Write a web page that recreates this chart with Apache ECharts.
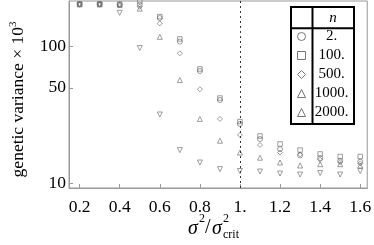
<!DOCTYPE html>
<html>
<head>
<meta charset="utf-8">
<script src="https://cdn.jsdelivr.net/npm/echarts@6/dist/echarts.min.js"></script>
<style>
html,body{margin:0;padding:0;background:#fff;}
#c{width:374px;height:245px;}
</style>
</head>
<body>
<div id="c"></div>
<script>
var xValues = [0.2, 0.3, 0.4, 0.5, 0.6, 0.7, 0.8, 0.9, 1.0, 1.1, 1.2, 1.3, 1.4, 1.5, 1.6];
var seriesNames = ['2.', '100.', '500.', '1000.', '2000.'];
var n2    = [205, 205, 203, 203, 162, 109, 66.4, 40.7, 27.2, 21.1, 17.8, 16.0, 15.3, 14.6, 14.4];
var n100  = [205, 205, 205, 214, 166, 114, 68.7, 42.1, 28.3, 22.2, 19.4, 17.5, 16.4, 15.7, 15.7];
var n500  = [205, 205, 204, 196, 148, 89.5, 48.8, 29.6, 22.6, 19.1, 16.8, 16.3, 14.9, 14.3, 14.0];
var n1000 = [204, 204, 202, 190, 118, 57, 29.6, 20.5, 16.8, 15.4, 14.2, 13.5, 13.8, 13.8, 13.5];
var n2000 = [203, 203, 177, 97.8, 31.9, 17.5, 14.2, 12.7, 12.3, 12.2, 11.8, 11.6, 11.9, 11.6, 12.3];
var xTicks = [0.2, 0.4, 0.6, 0.8, 1.0, 1.2, 1.4, 1.6];
var yTicks = [10, 50, 100];
var criticalX = 1.0;

var serif = "'Liberation Serif', 'DejaVu Serif', serif";
var markGray = '#666';

function pairs(ys) {
  return xValues.map(function (x, i) { return [x, ys[i]]; });
}

var allSeries = [n2, n100, n500, n1000, n2000];
var symbols = ['circle', 'rect', 'diamond', 'triangle', 'triangle'];
var rotations = [0, 0, 0, 0, 180];
var sizes = [5, 4.5, 5, 5, 5];

var series = allSeries.map(function (ys, k) {
  var s = {
    name: seriesNames[k],
    type: 'scatter',
    data: pairs(ys),
    symbol: symbols[k],
    symbolRotate: rotations[k],
    symbolSize: sizes[k],
    itemStyle: { color: 'rgba(0,0,0,0)', borderColor: markGray, borderWidth: 0.8 },
    z: 2
  };
  if (k === 0) {
    s.markLine = {
      silent: true,
      symbol: 'none',
      label: { show: false },
      lineStyle: { type: [2, 3], color: '#333', width: 1 },
      data: [{ xAxis: criticalX }]
    };
  }
  return s;
});

var chart = echarts.init(document.getElementById('c'), null, { renderer: 'canvas' });
chart.setOption({
  animation: false,
  backgroundColor: '#fff',
  textStyle: { fontFamily: serif },
  grid: { left: 62, right: 4, top: 1, bottom: 57, show: true, borderColor: '#999', borderWidth: 1 },
  xAxis: {
    type: 'value',
    min: 0.147,
    max: 1.635,
    axisLine: { show: true, lineStyle: { color: '#999', width: 1 } },
    axisTick: { show: true, inside: true, length: 4, lineStyle: { color: '#999' }, customValues: xTicks },
    axisLabel: {
      customValues: xTicks,
      margin: 10,
      color: '#000', fontFamily: serif, fontSize: 17.5,
      formatter: function (v) { return Math.abs(v - 1) < 1e-9 ? '1.' : v.toFixed(1); }
    },
    splitLine: { show: false }
  },
  yAxis: {
    type: 'log',
    logBase: 10,
    min: 9.24,
    max: 216,
    axisLine: { show: true, lineStyle: { color: '#999', width: 1 } },
    axisTick: { show: true, inside: true, length: 4, lineStyle: { color: '#999' }, customValues: yTicks },
    axisLabel: {
      customValues: yTicks,
      margin: 3,
      color: '#000', fontFamily: serif, fontSize: 17.5,
      formatter: function (v) { return String(Math.round(v)); }
    },
    splitLine: { show: false },
    minorTick: { show: false },
    name: 'genetic variance × 10{sup|3}',
    nameLocation: 'middle',
    nameGap: 41,
    nameTextStyle: {
      color: '#000', fontFamily: serif, fontSize: 17.5,
      padding: [0, 10, 0, 0],
      rich: { sup: { fontSize: 11, fontFamily: serif, color: '#000', padding: [0, 0, 9, 0] } }
    }
  },
  legend: {
    orient: 'vertical',
    left: 297,
    top: 29,
    padding: 0,
    itemWidth: 8,
    itemHeight: 8,
    itemGap: 4,
    z: 10,
    selectedMode: false,
    data: seriesNames,
    itemStyle: { color: 'rgba(0,0,0,0)', borderColor: '#555', borderWidth: 1 },
    formatter: '{c|{name}}',
    textStyle: {
      color: '#000', fontFamily: serif, fontSize: 15,
      rich: { c: { width: 42, align: 'center', fontFamily: serif, fontSize: 15, color: '#000' } }
    }
  },
  graphic: [
    { type: 'rect', z: 3, shape: { x: 291, y: 7, width: 63, height: 117 }, style: { fill: '#fff', stroke: '#000', lineWidth: 2 } },
    { type: 'line', z: 11, shape: { x1: 312.5, y1: 7, x2: 312.5, y2: 124 }, style: { stroke: '#000', lineWidth: 2 } },
    { type: 'line', z: 11, shape: { x1: 291, y1: 28.3, x2: 354, y2: 28.3 }, style: { stroke: '#000', lineWidth: 2 } },
    { type: 'text', z: 11, x: 333, y: 18, style: { text: 'n', fontFamily: serif, fontStyle: 'italic', fontSize: 15, fill: '#000', align: 'center', verticalAlign: 'middle' } },
    { type: 'text', z: 11, x: 188, y: 229, style: { text: 'σ', fontFamily: serif, fontStyle: 'italic', fontSize: 20, fill: '#000', align: 'left', verticalAlign: 'middle' } },
    { type: 'text', z: 11, x: 199, y: 218.5, style: { text: '2', fontFamily: serif, fontSize: 12, fill: '#000', align: 'left', verticalAlign: 'middle' } },
    { type: 'text', z: 11, x: 205, y: 228, style: { text: '/', fontFamily: serif, fontSize: 20, fill: '#000', align: 'left', verticalAlign: 'middle' } },
    { type: 'text', z: 11, x: 212, y: 229, style: { text: 'σ', fontFamily: serif, fontStyle: 'italic', fontSize: 20, fill: '#000', align: 'left', verticalAlign: 'middle' } },
    { type: 'text', z: 11, x: 223, y: 218.5, style: { text: '2', fontFamily: serif, fontSize: 12, fill: '#000', align: 'left', verticalAlign: 'middle' } },
    { type: 'text', z: 11, x: 223, y: 234.5, style: { text: 'crit', fontFamily: serif, fontSize: 12, fill: '#000', align: 'left', verticalAlign: 'middle' } }
  ],
  series: series
});
</script>
</body>
</html>
